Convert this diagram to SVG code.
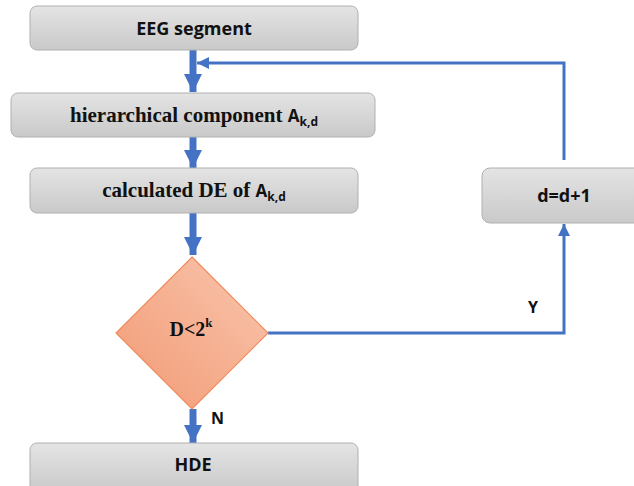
<svg xmlns="http://www.w3.org/2000/svg" width="634" height="486" viewBox="0 0 634 486">
<defs>
<linearGradient id="gbox" x1="0" y1="0" x2="0" y2="1">
<stop offset="0" stop-color="#e4e4e4"/>
<stop offset="1" stop-color="#c9c9c9"/>
</linearGradient>
<linearGradient id="gdia" x1="0" y1="1" x2="1" y2="0">
<stop offset="0" stop-color="#f29a74"/>
<stop offset="1" stop-color="#f9c6ae"/>
</linearGradient>
<marker id="ah" viewBox="0 0 10 10" refX="10" refY="5" markerWidth="2.6" markerHeight="3" orient="auto" markerUnits="strokeWidth">
<path d="M0,0 L10,5 L0,10 z" fill="#4472c4"/>
</marker>
<marker id="ahs" viewBox="0 0 10 10" refX="10" refY="5" markerWidth="4" markerHeight="4" orient="auto" markerUnits="strokeWidth">
<path d="M0,0 L10,5 L0,10 z" fill="#4472c4"/>
</marker>
</defs>
<style>
.box{fill:url(#gbox);stroke:#b0b0b0;stroke-width:1}
.sans{font-family:"Open Sans","Liberation Sans",sans-serif;font-weight:bold;fill:#111}
.serif{font-family:"Liberation Serif",serif;font-weight:bold;fill:#111}
.thick{stroke:#4472c4;stroke-width:7;fill:none}
.thin{stroke:#4472c4;stroke-width:3;fill:none}
</style>
<rect width="634" height="486" fill="#ffffff"/>
<g id="connectors">
<line class="thick" x1="193" y1="50" x2="193" y2="92" marker-end="url(#ah)"/>
<line class="thick" x1="193" y1="137" x2="193" y2="168" marker-end="url(#ah)"/>
<line class="thick" x1="193" y1="213" x2="193" y2="255" marker-end="url(#ah)"/>
<line class="thick" x1="193" y1="409" x2="193" y2="443" marker-end="url(#ah)"/>
<polyline class="thin" points="268,333 564,333 564,224" marker-end="url(#ahs)"/>
<polyline class="thin" points="564,160 564,63 197,63" marker-end="url(#ahs)"/>
<text class="sans" x="528" y="313" font-size="16">Y</text>
<text class="sans" x="211" y="424" font-size="16">N</text>
</g>
<g id="eeg">
<rect class="box" x="30" y="6" width="328" height="44" rx="7"/>
<text class="sans" x="194" y="35" font-size="18" text-anchor="middle">EEG segment</text>
</g>
<g id="hier">
<rect class="box" x="11" y="93" width="364" height="44" rx="7"/>
<text x="194" y="122" font-size="21" text-anchor="middle"><tspan class="serif">hierarchical component </tspan><tspan class="sans" font-size="17">A</tspan><tspan class="sans" font-size="12" dy="4">k,d</tspan></text>
</g>
<g id="de">
<rect class="box" x="30" y="168" width="328" height="45" rx="7"/>
<text x="194" y="197" font-size="21" text-anchor="middle"><tspan class="serif">calculated DE of  </tspan><tspan class="sans" font-size="17">A</tspan><tspan class="sans" font-size="12" dy="4">k,d</tspan></text>
</g>
<g id="cond">
<polygon points="192,257 268,333 192,409 116,333" fill="url(#gdia)" stroke="#f08a5a" stroke-width="1.2"/>
<text x="191" y="336" font-size="20" text-anchor="middle"><tspan class="serif">D&lt;2</tspan><tspan class="serif" font-size="13" dy="-9">k</tspan></text>
</g>
<g id="hde">
<rect class="box" x="30" y="443" width="328" height="50" rx="7"/>
<text class="sans" x="193" y="471" font-size="18" text-anchor="middle">HDE</text>
</g>
<g id="inc">
<rect class="box" x="482" y="168" width="170" height="55" rx="8"/>
<text class="sans" x="564" y="202" font-size="18" text-anchor="middle">d=d+1</text>
</g>
</svg>
